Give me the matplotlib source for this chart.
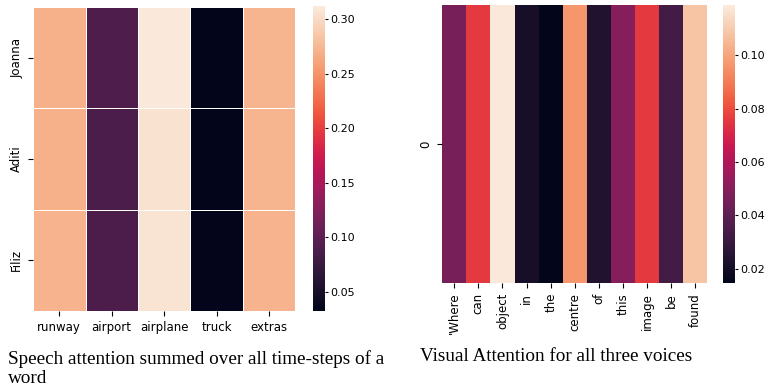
import numpy as np
import matplotlib
matplotlib.use("Agg")
import matplotlib.pyplot as plt
import seaborn as sns

words = ["runway", "airport", "airplane", "truck", "extras"]
voices = ["Joanna", "Aditi", "Filiz"]
speech = [[0.270, 0.090, 0.310, 0.033, 0.272],
          [0.270, 0.088, 0.305, 0.033, 0.272],
          [0.271, 0.089, 0.306, 0.034, 0.271]]

tokens = ["'Where", "can", "object", "in", "the", "centre", "of", "this", "image", "be", "found"]
visual = [[0.046, 0.076, 0.118, 0.021, 0.015, 0.096, 0.024, 0.050, 0.076, 0.033, 0.108]]

fs = 8.5

fig = plt.figure(figsize=(7.69, 3.9), dpi=100)

ax1 = fig.add_axes([0.043, 0.203, 0.341, 0.779])
cax1 = fig.add_axes([0.407, 0.203, 0.0156, 0.782])
sns.heatmap(np.array(speech), ax=ax1, cbar_ax=cax1, xticklabels=words, yticklabels=voices,
            linewidths=0.6, linecolor="white", vmin=0.0326, vmax=0.312)
ax1.set_yticklabels(voices, rotation=90, va="center", fontsize=fs)
ax1.set_xticklabels(words, rotation=0, fontsize=fs)

ax2 = fig.add_axes([0.575, 0.274, 0.345, 0.713])
cax2 = fig.add_axes([0.940, 0.274, 0.0156, 0.713])
sns.heatmap(np.array(visual), ax=ax2, cbar_ax=cax2, xticklabels=tokens, yticklabels=["0"],
            vmin=0.0147, vmax=0.1187)
ax2.set_yticklabels(["0"], rotation=90, va="center", fontsize=fs)
ax2.set_xticklabels(tokens, rotation=90, fontsize=fs)

for cax in (cax1, cax2):
    cax.tick_params(labelsize=8, length=2.5, pad=1.5)

fig.text(0.010, 0.056, "Speech attention summed over all time-steps of a\nword",
         family="Liberation Serif", fontsize=13.8, va="center", linespacing=1.15)
fig.text(0.546, 0.085, "Visual Attention for all three voices",
         family="Liberation Serif", fontsize=13.8, va="center")

fig.savefig("out.png", dpi=100)
